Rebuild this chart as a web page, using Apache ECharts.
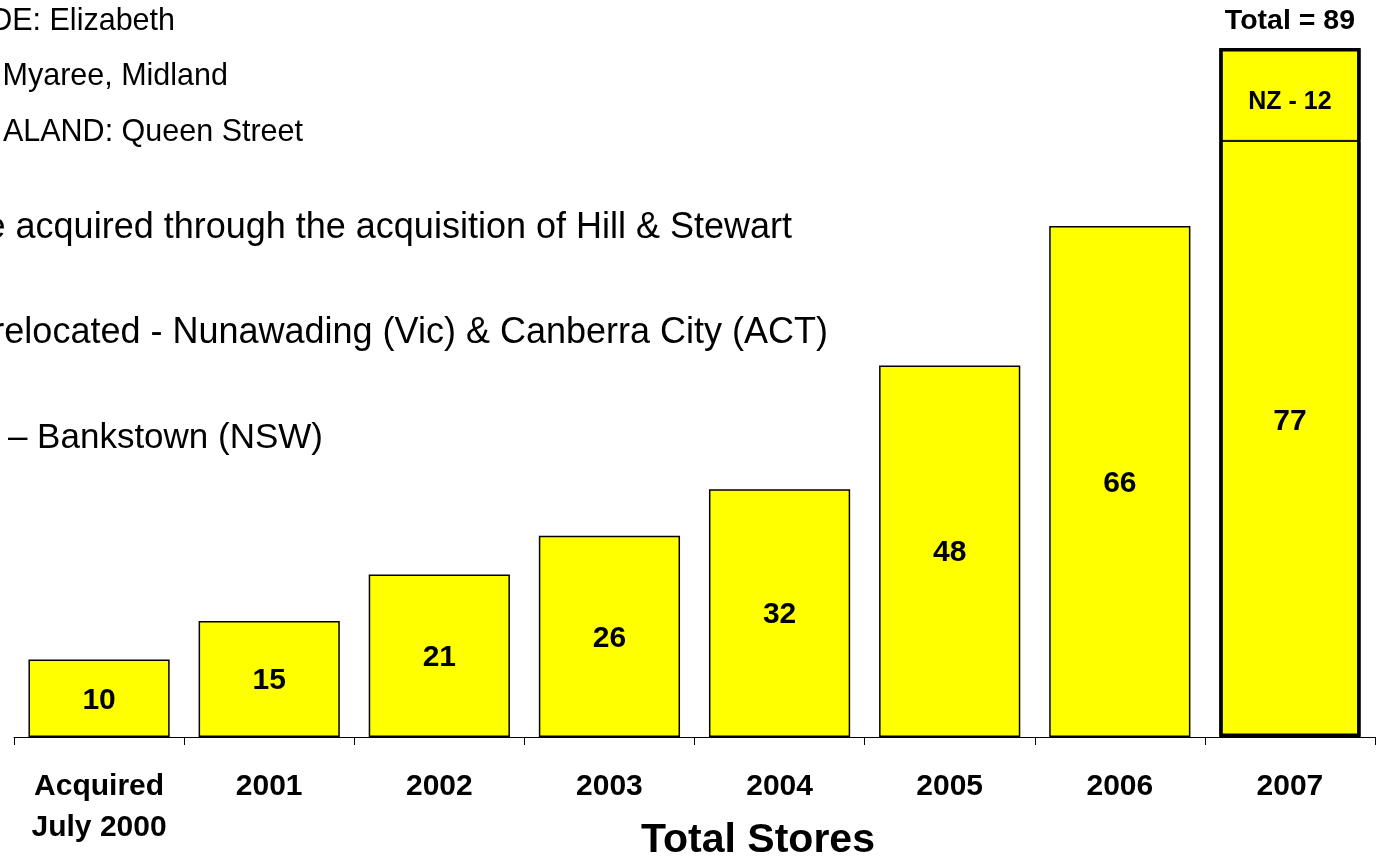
<!DOCTYPE html>
<html>
<head>
<meta charset="utf-8">
<script src="https://cdn.jsdelivr.net/npm/echarts@6/dist/echarts.min.js"></script>
<style>
  html, body { margin: 0; padding: 0; background: #fff; }
  #chart { width: 1378px; height: 858px; }
</style>
</head>
<body>
<div id="chart"></div>
<script>
const categories = ['Acquired\nJuly 2000', '2001', '2002', '2003', '2004', '2005', '2006', '2007']
const ausStores = [10, 15, 21, 26, 32, 48, 66, 77]
const nzStores = [null, null, null, null, null, null, null, 12]
const totalStores = [null, null, null, null, null, null, null, 89]

const font = '"Liberation Sans", Arial, sans-serif'

// notes on the left are cut off by the page edge in the original
const notes = [
  {text: 'DE: Elizabeth', x: 175, y: 22, size: 30.5},
  {text: 'Myaree, Midland', x: 228, y: 77, size: 30.5},
  {text: 'ALAND: Queen Street', x: 303, y: 133, size: 30.5},
  {text: 'e acquired through the acquisition of Hill & Stewart', x: 792, y: 228, size: 36},
  {text: 'relocated - Nunawading (Vic) & Canberra City (ACT)', x: 828, y: 333, size: 36},
  {text: '– Bankstown (NSW)', x: 323, y: 438, size: 35}
]

const last = ausStores.length - 1

const option = {
  animation: false,
  grid: {
    left: 14,
    right: 3,
    top: 48,
    bottom: 121
  },
  xAxis: {
    type: 'category',
    data: categories,
    axisLine: {show: true, lineStyle: {color: '#000', width: 1}},
    axisTick: {show: true, length: 8, lineStyle: {color: '#000', width: 1}},
    axisLabel: {
      color: '#000',
      fontFamily: font,
      fontWeight: 'bold',
      fontSize: 30,
      lineHeight: 41,
      margin: 29,
      interval: 0
    }
  },
  yAxis: {
    type: 'value',
    min: 0,
    max: 89,
    show: false,
    splitLine: {show: false}
  },
  series: [
    {
      name: 'Australia',
      type: 'bar',
      stack: 'stores',
      barCategoryGap: '17%',
      barGap: '-100%',
      itemStyle: {color: '#ffff00', borderColor: '#000', borderWidth: 1.5},
      label: {
        show: true,
        position: 'inside',
        offset: [0, 2],
        color: '#000',
        fontFamily: font,
        fontWeight: 'bold',
        fontSize: 30
      },
      data: ausStores.map((v, i) => i === last
        ? {value: v, itemStyle: {borderWidth: 1}, label: {offset: [0, -17]}}
        : v)
    },
    {
      name: 'NZ',
      type: 'bar',
      stack: 'stores',
      barCategoryGap: '17%',
      barGap: '-100%',
      itemStyle: {color: '#ffff00', borderColor: '#000', borderWidth: 1},
      label: {
        show: true,
        position: 'inside',
        formatter: p => 'NZ - ' + p.value,
        offset: [0, 8],
        color: '#000',
        fontFamily: font,
        fontWeight: 'bold',
        fontSize: 25
      },
      data: nzStores
    },
    {
      name: 'Total',
      type: 'bar',
      barCategoryGap: '17%',
      barGap: '-100%',
      itemStyle: {color: 'rgba(0,0,0,0)', borderColor: '#000', borderWidth: 3.5},
      label: {
        show: true,
        position: 'top',
        distance: 12,
        formatter: p => 'Total = ' + p.value,
        color: '#000',
        fontFamily: font,
        fontWeight: 'bold',
        fontSize: 28.5
      },
      data: totalStores
    }
  ],
  graphic: notes.map(n => ({
    type: 'text',
    x: n.x,
    y: n.y,
    style: {
      text: n.text,
      fill: '#000',
      font: n.size + 'px ' + font,
      textAlign: 'right',
      textVerticalAlign: 'middle'
    }
  })).concat([{
    type: 'text',
    x: 758,
    y: 841,
    style: {
      text: 'Total Stores',
      fill: '#000',
      font: 'bold 41px ' + font,
      textAlign: 'center',
      textVerticalAlign: 'middle'
    }
  }])
}

const chart = echarts.init(document.getElementById('chart'))
chart.setOption(option)
</script>
</body>
</html>
